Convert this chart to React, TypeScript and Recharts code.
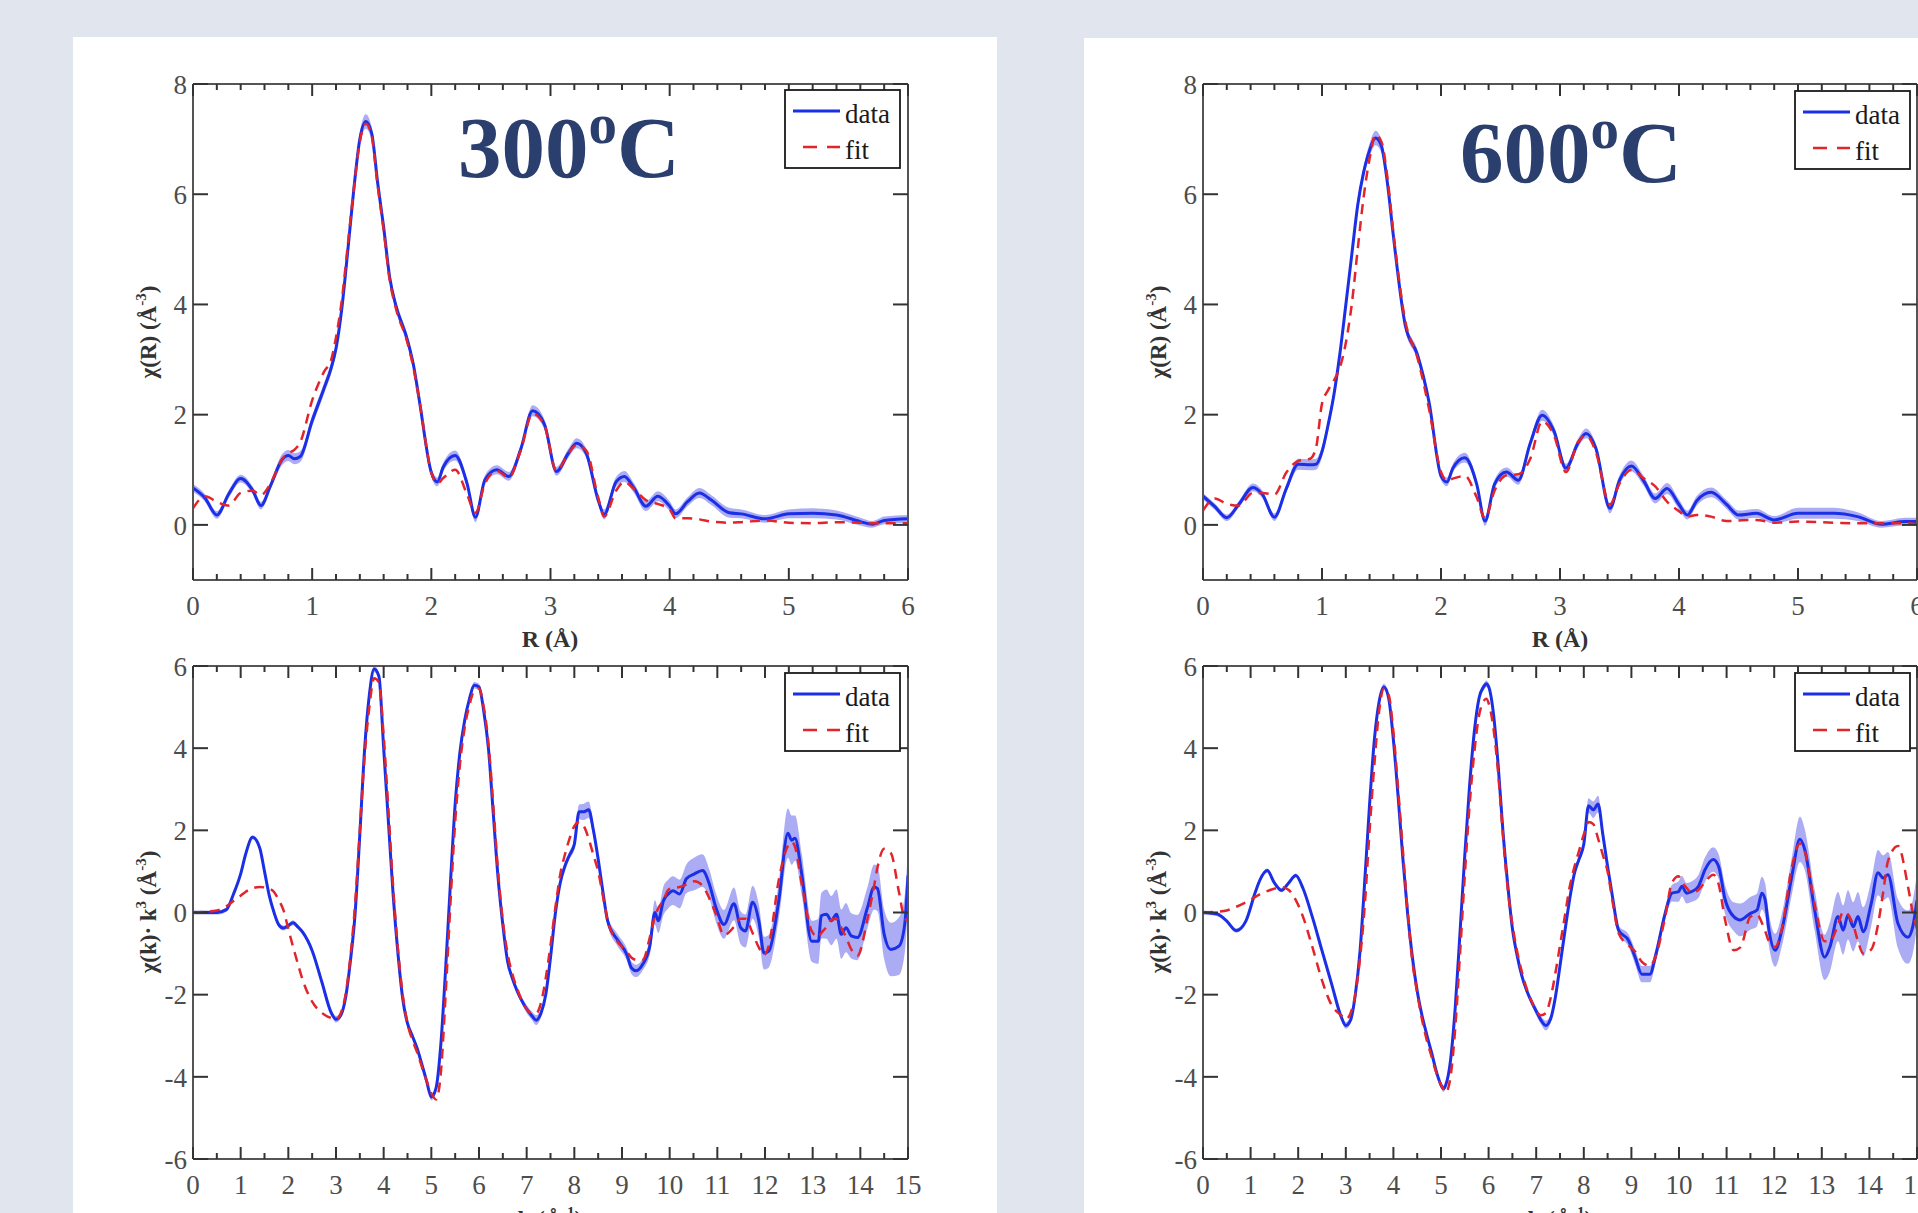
import React from 'react';
import { Area, ComposedChart, Line, XAxis, YAxis } from 'recharts';

// EXAFS fits, 300 °C and 600 °C: chi(R) on top, chi(k)*k^3 below

const SERIF = '"Liberation Serif", "Times New Roman", serif';
const BG = '#e1e5ee';
const FRAME = '#555555';
const TICK = '#333333';
const LABEL = '#4d4d4d';
const BLUE = '#1b2fe6';
const RED = '#e3252b';
const BAND = '#7474ee';
const TITLE = '#2b3f6f';

const rTicks = [0, 0.2, 0.4, 0.6, 0.8, 1, 1.2, 1.4, 1.6, 1.8, 2, 2.2, 2.4, 2.6, 2.8, 3, 3.2, 3.4, 3.6, 3.8, 4, 4.2, 4.4, 4.6, 4.8, 5, 5.2, 5.4, 5.6, 5.8, 6];
const kTicks = [0, 0.5, 1, 1.5, 2, 2.5, 3, 3.5, 4, 4.5, 5, 5.5, 6, 6.5, 7, 7.5, 8, 8.5, 9, 9.5, 10, 10.5, 11, 11.5, 12, 12.5, 13, 13.5, 14, 14.5, 15];
const rYTicks = [0, 2, 4, 6, 8];
const kYTicks = [-6, -4, -2, 0, 2, 4, 6];

// ---- chi(R), 300 C ----
const r300 = [0, 0.1, 0.2, 0.3, 0.4, 0.5, 0.57, 0.65, 0.75, 0.8,
  0.85, 0.9, 1.0, 1.1, 1.16, 1.2, 1.25, 1.3, 1.35, 1.4,
  1.45, 1.5, 1.55, 1.6, 1.65, 1.7, 1.8, 1.85, 1.9, 2.0,
  2.05, 2.1, 2.2, 2.3, 2.37, 2.45, 2.55, 2.65, 2.75, 2.85,
  2.95, 3.05, 3.15, 3.22, 3.3, 3.4, 3.45, 3.55, 3.62, 3.7,
  3.8, 3.9, 4.0, 4.05, 4.15, 4.25, 4.35, 4.5, 4.6, 4.8,
  5.0, 5.2, 5.4, 5.6, 5.7, 5.8, 6.0];
const data300R = [0.67, 0.49, 0.18, 0.56, 0.84, 0.63, 0.35, 0.71, 1.19, 1.26,
  1.2, 1.24, 1.89, 2.48, 2.85, 3.2, 3.95, 5.0, 6.1, 7.0,
  7.32, 7.1, 6.2, 5.4, 4.5, 4.0, 3.35, 2.9, 2.25, 0.95,
  0.78, 1.05, 1.26, 0.75, 0.14, 0.82, 1.0, 0.88, 1.37, 2.07,
  1.82, 0.97, 1.3, 1.48, 1.3, 0.45, 0.19, 0.78, 0.88, 0.67,
  0.34, 0.52, 0.34, 0.2, 0.42, 0.58, 0.45, 0.22, 0.2, 0.11,
  0.2, 0.21, 0.18, 0.06, 0.01, 0.08, 0.11];
const fit300R = [0.3, 0.52, 0.42, 0.35, 0.58, 0.62, 0.54, 0.75, 1.2, 1.3,
  1.36, 1.5, 2.26, 2.78, 3.0, 3.4, 4.1, 5.1, 6.1, 6.95,
  7.28, 7.05, 6.15, 5.35, 4.45, 3.95, 3.3, 2.85, 2.25, 0.95,
  0.75, 0.85, 1.0, 0.55, 0.22, 0.75, 0.98, 0.86, 1.35, 2.02,
  1.8, 0.98, 1.3, 1.45, 1.35, 0.5, 0.15, 0.62, 0.78, 0.65,
  0.45, 0.38, 0.28, 0.12, 0.12, 0.1, 0.06, 0.04, 0.05, 0.08,
  0.04, 0.03, 0.05, 0.04, 0.03, 0.03, 0.03];
const err300R = [0.07, 0.07, 0.07, 0.07, 0.07, 0.07, 0.07, 0.07, 0.1, 0.1,
  0.1, 0.1, 0.1, 0.1, 0.1, 0.1, 0.1, 0.1, 0.1, 0.12,
  0.13, 0.12, 0.1, 0.1, 0.09, 0.09, 0.09, 0.09, 0.08, 0.08,
  0.08, 0.08, 0.09, 0.08, 0.09, 0.08, 0.08, 0.08, 0.08, 0.1,
  0.09, 0.08, 0.08, 0.09, 0.08, 0.08, 0.09, 0.09, 0.1, 0.09,
  0.09, 0.09, 0.09, 0.08, 0.08, 0.09, 0.09, 0.09, 0.08, 0.07,
  0.08, 0.09, 0.08, 0.07, 0.06, 0.07, 0.07];

// ---- chi(R), 600 C ----
const r600 = [0, 0.1, 0.2, 0.3, 0.42, 0.5, 0.6, 0.7, 0.8, 0.9,
  0.95, 1.0, 1.05, 1.1, 1.15, 1.2, 1.25, 1.3, 1.35, 1.4,
  1.45, 1.5, 1.55, 1.6, 1.7, 1.8, 1.9, 2.0, 2.05, 2.1,
  2.2, 2.3, 2.37, 2.45, 2.55, 2.65, 2.75, 2.85, 2.95, 3.05,
  3.15, 3.22, 3.3, 3.42, 3.5, 3.6, 3.7, 3.8, 3.9, 4.0,
  4.07, 4.15, 4.27, 4.4, 4.5, 4.65, 4.8, 5.0, 5.3, 5.5,
  5.7, 5.9, 6.0];
const data600R = [0.52, 0.33, 0.13, 0.37, 0.68, 0.55, 0.14, 0.66, 1.1, 1.09,
  1.1, 1.33, 1.8, 2.36, 3.1, 3.99, 4.9, 5.8, 6.4, 6.8,
  7.02, 6.87, 6.2, 5.24, 3.62, 3.1, 2.22, 0.89, 0.78, 1.03,
  1.22, 0.74, 0.07, 0.74, 0.96, 0.81, 1.48, 1.99, 1.7, 1.03,
  1.48, 1.66, 1.4, 0.3, 0.81, 1.07, 0.81, 0.48, 0.66, 0.37,
  0.18, 0.44, 0.59, 0.37, 0.18, 0.21, 0.09, 0.21, 0.21, 0.15,
  0.01, 0.06, 0.06];
const fit600R = [0.26, 0.48, 0.38, 0.35, 0.58, 0.58, 0.55, 0.95, 1.16, 1.2,
  1.4, 2.2, 2.44, 2.62, 2.85, 3.3, 4.0, 5.0, 5.95, 6.65,
  7.08, 6.95, 6.3, 5.3, 3.7, 3.05, 2.1, 0.96, 0.81, 0.84,
  0.89, 0.5, 0.12, 0.62, 0.9, 0.92, 1.2, 1.88, 1.62, 0.96,
  1.5, 1.62, 1.33, 0.37, 0.75, 1.0, 0.85, 0.7, 0.42, 0.25,
  0.15, 0.18, 0.15, 0.07, 0.08, 0.09, 0.04, 0.06, 0.04, 0.03,
  0.03, 0.03, 0.01];
const err600R = [0.06, 0.06, 0.06, 0.06, 0.07, 0.07, 0.07, 0.07, 0.1, 0.1,
  0.1, 0.1, 0.1, 0.1, 0.1, 0.1, 0.1, 0.1, 0.1, 0.12,
  0.13, 0.12, 0.1, 0.1, 0.09, 0.09, 0.09, 0.08, 0.08, 0.08,
  0.09, 0.08, 0.09, 0.08, 0.08, 0.08, 0.08, 0.1, 0.09, 0.08,
  0.08, 0.09, 0.08, 0.09, 0.09, 0.1, 0.09, 0.09, 0.1, 0.09,
  0.08, 0.09, 0.09, 0.08, 0.08, 0.08, 0.07, 0.1, 0.1, 0.08,
  0.06, 0.07, 0.07];

// ---- chi(k)*k^3, 300 C ----
const k300 = [0, 0.5, 0.7, 0.85, 1.0, 1.1, 1.25, 1.4, 1.5, 1.6,
  1.7, 1.8, 1.9, 2.0, 2.1, 2.2, 2.3, 2.5, 2.7, 2.9,
  3.0, 3.1, 3.2, 3.3, 3.4, 3.5, 3.6, 3.7, 3.8, 3.9,
  4.0, 4.1, 4.2, 4.3, 4.4, 4.5, 4.6, 4.7, 4.8, 4.9,
  5.0, 5.1, 5.2, 5.3, 5.4, 5.5, 5.6, 5.7, 5.8, 5.9,
  6.0, 6.1, 6.2, 6.3, 6.4, 6.5, 6.6, 6.7, 6.8, 6.9,
  7.0, 7.1, 7.2, 7.3, 7.4, 7.5, 7.6, 7.7, 7.8, 7.9,
  8.0, 8.1, 8.2, 8.3, 8.4, 8.5, 8.6, 8.7, 8.9, 9.1,
  9.2, 9.3, 9.44, 9.58, 9.69, 9.76, 9.87, 9.97, 10.07, 10.21,
  10.35, 10.52, 10.69, 10.83, 10.97, 11.14, 11.35, 11.49, 11.59, 11.74,
  11.87, 11.98, 12.08, 12.29, 12.48, 12.56, 12.63, 12.77, 12.98, 13.12,
  13.18, 13.29, 13.39, 13.5, 13.6, 13.7, 13.81, 13.94, 14.15, 14.29,
  14.36, 14.5, 14.64, 14.81, 14.93, 15.0];
const data300k = [0, 0, 0.07, 0.45, 0.94, 1.4, 1.83, 1.57, 1.0, 0.41,
  0.0, -0.3, -0.38, -0.32, -0.25, -0.35, -0.48, -0.93, -1.68, -2.44,
  -2.6, -2.5, -2.08, -1.2, -0.04, 1.9, 3.97, 5.3, 5.93, 5.75,
  4.0, 2.2, 0.41, -1.0, -2.1, -2.7, -3.0, -3.3, -3.69, -4.1,
  -4.49, -4.27, -3.2, -1.37, 0.7, 2.64, 3.9, 4.68, 5.2, 5.53,
  5.49, 4.9, 3.97, 2.4, 0.85, -0.3, -1.19, -1.6, -1.91, -2.15,
  -2.35, -2.5, -2.62, -2.45, -2.0, -1.1, -0.04, 0.7, 1.12, 1.4,
  1.66, 2.45, 2.45, 2.5, 2.0, 1.3, 0.5, -0.21, -0.66, -1.02,
  -1.35, -1.42, -1.25, -0.84, 0.0, -0.2, 0.29, 0.45, 0.53, 0.45,
  0.82, 0.94, 1.02, 0.7, 0.12, -0.29, 0.21, -0.37, -0.45, 0.25,
  -0.2, -0.99, -0.94, 0.29, 1.93, 1.76, 1.81, 0.94, -0.7, -0.7,
  -0.08, -0.04, -0.2, -0.04, -0.53, -0.37, -0.57, -0.61, 0.12, 0.62,
  0.58, -0.53, -0.9, -0.82, -0.3, 0.9];
const fit300k = [0, 0.05, 0.15, 0.28, 0.41, 0.5, 0.59, 0.62, 0.61, 0.58,
  0.5, 0.3, 0.05, -0.4, -0.84, -1.25, -1.64, -2.17, -2.44, -2.57,
  -2.6, -2.45, -2.0, -1.1, 0.2, 2.0, 3.8, 5.0, 5.7, 5.6,
  4.3, 2.5, 0.6, -0.9, -2.0, -2.7, -3.1, -3.4, -3.75, -4.1,
  -4.4, -4.55, -3.9, -2.0, 0.2, 2.2, 3.6, 4.5, 5.05, 5.4,
  5.45, 5.0, 4.1, 2.6, 1.0, -0.2, -1.0, -1.5, -1.85, -2.15,
  -2.35, -2.45, -2.45, -2.2, -1.6, -0.8, 0.1, 0.9, 1.4, 1.8,
  2.1, 2.2, 2.1, 1.8, 1.4, 1.0, 0.4, -0.2, -0.7, -0.95,
  -1.1, -1.15, -1.15, -0.62, -0.1, 0.1, 0.3, 0.55, 0.6, 0.62,
  0.68, 0.76, 0.65, 0.35, -0.04, -0.55, -0.35, -0.15, -0.15, -0.5,
  -0.85, -1.03, -0.8, 0.8, 1.62, 1.72, 1.6, 0.7, -0.45, -0.6,
  -0.5, -0.35, -0.18, -0.15, -0.37, -0.6, -0.9, -1.05, -0.15, 0.65,
  1.1, 1.55, 1.45, 0.5, -0.15, -0.2];
const err300k = [0.05, 0.05, 0.05, 0.05, 0.05, 0.05, 0.05, 0.05, 0.05, 0.05,
  0.06, 0.06, 0.06, 0.06, 0.06, 0.06, 0.06, 0.06, 0.06, 0.06,
  0.08, 0.08, 0.08, 0.08, 0.08, 0.08, 0.08, 0.08, 0.08, 0.08,
  0.08, 0.08, 0.08, 0.08, 0.08, 0.08, 0.08, 0.08, 0.08, 0.08,
  0.08, 0.08, 0.08, 0.08, 0.08, 0.08, 0.08, 0.08, 0.08, 0.08,
  0.08, 0.08, 0.08, 0.08, 0.08, 0.08, 0.08, 0.08, 0.08, 0.08,
  0.1, 0.1, 0.12, 0.1, 0.08, 0.08, 0.08, 0.08, 0.1, 0.1,
  0.12, 0.18, 0.2, 0.2, 0.15, 0.12, 0.1, 0.12, 0.15, 0.15,
  0.15, 0.15, 0.15, 0.2, 0.3, 0.3, 0.35, 0.35, 0.35, 0.35,
  0.35, 0.4, 0.4, 0.35, 0.35, 0.35, 0.4, 0.4, 0.4, 0.4,
  0.4, 0.4, 0.4, 0.45, 0.6, 0.6, 0.55, 0.5, 0.5, 0.55,
  0.55, 0.6, 0.6, 0.6, 0.6, 0.6, 0.55, 0.55, 0.5, 0.55,
  0.55, 0.6, 0.65, 0.7, 0.7, 0.7];

// ---- chi(k)*k^3, 600 C ----
const k600 = [0, 0.3, 0.5, 0.7, 0.9, 1.1, 1.2, 1.35, 1.5, 1.65,
  1.8, 1.95, 2.1, 2.3, 2.5, 2.7, 2.9, 3.0, 3.1, 3.2,
  3.3, 3.4, 3.5, 3.6, 3.7, 3.8, 3.9, 4.0, 4.1, 4.2,
  4.3, 4.4, 4.5, 4.6, 4.7, 4.8, 4.9, 5.0, 5.05, 5.1,
  5.2, 5.3, 5.4, 5.5, 5.6, 5.7, 5.8, 5.9, 5.95, 6.0,
  6.1, 6.2, 6.3, 6.4, 6.5, 6.6, 6.7, 6.8, 6.9, 7.0,
  7.1, 7.2, 7.3, 7.4, 7.5, 7.6, 7.7, 7.8, 7.9, 8.0,
  8.1, 8.2, 8.3, 8.4, 8.5, 8.6, 8.73, 8.94, 9.08, 9.22,
  9.39, 9.5, 9.71, 9.85, 9.99, 10.06, 10.16, 10.27, 10.41, 10.55,
  10.72, 10.83, 10.97, 11.15, 11.29, 11.5, 11.64, 11.74, 11.81, 11.88,
  12.02, 12.16, 12.37, 12.54, 12.64, 12.85, 13.06, 13.17, 13.34, 13.45,
  13.55, 13.66, 13.76, 13.87, 14.04, 14.18, 14.29, 14.39, 14.6, 14.81,
  14.91, 15.0];
const data600k = [0, -0.04, -0.21, -0.44, -0.21, 0.5, 0.8, 1.02, 0.72, 0.54,
  0.72, 0.9, 0.59, -0.12, -0.93, -1.73, -2.53, -2.75, -2.62, -2.0,
  -0.93, 0.8, 2.64, 4.2, 5.13, 5.49, 5.22, 4.2, 2.81, 1.3,
  -0.04, -1.1, -1.91, -2.5, -2.97, -3.4, -3.86, -4.2, -4.29, -4.2,
  -3.6, -2.3, -0.48, 1.4, 3.08, 4.4, 5.22, 5.5, 5.57, 5.5,
  4.86, 3.6, 2.0, 0.7, -0.39, -1.05, -1.55, -1.9, -2.17, -2.4,
  -2.62, -2.75, -2.6, -2.08, -1.3, -0.48, 0.3, 0.94, 1.3, 1.66,
  2.6, 2.5, 2.64, 1.9, 1.12, 0.4, -0.43, -0.68, -1.09, -1.5,
  -1.5, -1.09, -0.02, 0.47, 0.51, 0.64, 0.47, 0.51, 0.64, 1.05,
  1.29, 1.13, 0.31, -0.1, -0.18, -0.02, 0.06, 0.47, 0.31, -0.35,
  -0.92, -0.43, 0.88, 1.78, 1.54, 0.06, -1.09, -0.84, -0.1, -0.43,
  -0.06, -0.35, -0.1, -0.47, 0.23, 0.97, 0.84, 0.92, -0.27, -0.6,
  -0.35, 0.3];
const fit600k = [0, 0.02, 0.05, 0.14, 0.25, 0.38, 0.45, 0.52, 0.58, 0.62,
  0.55, 0.3, -0.1, -0.85, -1.65, -2.25, -2.5, -2.6, -2.45, -2.0,
  -1.1, 0.2, 2.0, 3.6, 4.9, 5.45, 5.3, 4.4, 3.0, 1.5,
  0.0, -1.2, -1.95, -2.6, -3.1, -3.5, -3.9, -4.2, -4.3, -4.38,
  -4.0, -2.8, -1.0, 0.9, 2.6, 3.9, 4.8, 5.15, 5.2, 5.1,
  4.5, 3.4, 1.9, 0.6, -0.3, -0.95, -1.45, -1.85, -2.15, -2.4,
  -2.5, -2.45, -2.1, -1.5, -0.8, -0.1, 0.6, 1.1, 1.5, 1.9,
  2.2, 2.15, 1.8, 1.4, 1.0, 0.3, -0.5, -0.8, -0.95, -1.2,
  -1.3, -1.1, -0.1, 0.72, 0.88, 0.75, 0.6, 0.48, 0.55, 0.75,
  0.92, 0.7, -0.19, -0.92, -0.85, -0.1, -0.05, -0.25, -0.45, -0.68,
  -0.84, -0.4, 1.1, 1.68, 1.5, 0.2, -0.7, -0.7, -0.3, 0.02,
  -0.05, -0.3, -0.7, -1.0, -0.9, -0.3, 0.5, 1.25, 1.62, 0.64,
  0.0, -0.4];
const err600k = [0.05, 0.05, 0.05, 0.05, 0.05, 0.05, 0.05, 0.05, 0.05, 0.05,
  0.05, 0.05, 0.05, 0.06, 0.06, 0.06, 0.08, 0.08, 0.08, 0.08,
  0.08, 0.08, 0.08, 0.08, 0.08, 0.08, 0.08, 0.08, 0.08, 0.08,
  0.08, 0.08, 0.08, 0.08, 0.08, 0.08, 0.08, 0.08, 0.08, 0.08,
  0.08, 0.08, 0.08, 0.08, 0.08, 0.08, 0.08, 0.08, 0.08, 0.08,
  0.08, 0.08, 0.08, 0.08, 0.08, 0.08, 0.08, 0.08, 0.08, 0.1,
  0.1, 0.12, 0.1, 0.08, 0.08, 0.08, 0.08, 0.08, 0.1, 0.12,
  0.18, 0.2, 0.2, 0.15, 0.12, 0.1, 0.12, 0.15, 0.18, 0.2,
  0.2, 0.18, 0.15, 0.2, 0.25, 0.25, 0.25, 0.25, 0.28, 0.3,
  0.3, 0.3, 0.35, 0.35, 0.4, 0.4, 0.4, 0.4, 0.4, 0.4,
  0.4, 0.4, 0.45, 0.55, 0.5, 0.5, 0.55, 0.6, 0.6, 0.6,
  0.6, 0.6, 0.6, 0.6, 0.55, 0.55, 0.55, 0.55, 0.6, 0.65,
  0.65, 0.65];

type ChartSpec = {
  id: string;
  left: number;
  top: number;
  w: number;
  h: number;
  xs: number[];
  data: number[];
  fit: number[];
  err: number[];
  xDomain: [number, number];
  yDomain: [number, number];
  xTicks: number[];
  yTicks: number[];
};

const charts: ChartSpec[] = [
  { id: 'r300', left: 193, top: 84, w: 715, h: 496, xs: r300, data: data300R, fit: fit300R, err: err300R, xDomain: [0, 6], yDomain: [-1, 8], xTicks: rTicks, yTicks: rYTicks },
  { id: 'k300', left: 193, top: 666, w: 715, h: 493, xs: k300, data: data300k, fit: fit300k, err: err300k, xDomain: [0, 15], yDomain: [-6, 6], xTicks: kTicks, yTicks: kYTicks },
  { id: 'r600', left: 1203, top: 84, w: 714, h: 496, xs: r600, data: data600R, fit: fit600R, err: err600R, xDomain: [0, 6], yDomain: [-1, 8], xTicks: rTicks, yTicks: rYTicks },
  { id: 'k600', left: 1203, top: 666, w: 714, h: 493, xs: k600, data: data600k, fit: fit600k, err: err600k, xDomain: [0, 15], yDomain: [-6, 6], xTicks: kTicks, yTicks: kYTicks },
];

const isMajor = (v: number) => Math.abs(v - Math.round(v)) < 1e-6;

const BottomTick = (props: any) => {
  const { x, y, payload } = props;
  const major = isMajor(payload.value);
  return (
    <g>
      <line x1={x} x2={x} y1={y} y2={y - (major ? 12 : 6)} stroke={TICK} strokeWidth={2} />
      {major && (
        <text x={x} y={y + 35} textAnchor="middle" fontFamily={SERIF} fontSize={27} fill={LABEL}>
          {payload.value}
        </text>
      )}
    </g>
  );
};

const TopTick = (props: any) => {
  const { x, y, payload } = props;
  const major = isMajor(payload.value);
  return <line x1={x} x2={x} y1={y} y2={y + (major ? 12 : 6)} stroke={TICK} strokeWidth={2} />;
};

const LeftTick = (props: any) => {
  const { x, y, payload } = props;
  return (
    <g>
      <line x1={x} x2={x + 15} y1={y} y2={y} stroke={TICK} strokeWidth={2} />
      <text x={x - 6} y={y} dy="0.36em" textAnchor="end" fontFamily={SERIF} fontSize={27} fill={LABEL}>
        {payload.value}
      </text>
    </g>
  );
};

const RightTick = (props: any) => {
  const { x, y } = props;
  return <line x1={x} x2={x - 15} y1={y} y2={y} stroke={TICK} strokeWidth={2} />;
};

const PAD_L = 60;
const PAD_B = 60;
const PAD = 20;

function FitChart({ spec }: { spec: ChartSpec }) {
  const rows = spec.xs.map((x, i) => ({
    x,
    data: spec.data[i],
    fit: spec.fit[i],
    band: [spec.data[i] - spec.err[i], spec.data[i] + spec.err[i]],
  }));
  const axisLine = { stroke: FRAME, strokeWidth: 2 };
  const common = { type: 'number' as const, allowDataOverflow: true, interval: 0 as const, tickSize: 0, tickMargin: 0, tickLine: false, axisLine };
  // top axis is 1px tall and right axis 1px wide so they still render
  return (
    <div style={{ position: 'absolute', left: spec.left - PAD_L, top: spec.top - PAD - 1 }}>
      <ComposedChart
        width={PAD_L + spec.w + 1 + PAD}
        height={PAD + 1 + spec.h + PAD_B}
        data={rows}
        margin={{ top: PAD, right: PAD, bottom: 0, left: 0 }}
      >
        <XAxis xAxisId="b" dataKey="x" domain={spec.xDomain} ticks={spec.xTicks} height={PAD_B} tick={<BottomTick />} {...common} />
        <XAxis xAxisId="t" orientation="top" dataKey="x" domain={spec.xDomain} ticks={spec.xTicks} height={1} tick={<TopTick />} {...common} />
        <YAxis yAxisId="l" domain={spec.yDomain} ticks={spec.yTicks} width={PAD_L} tick={<LeftTick />} {...common} />
        <YAxis yAxisId="r" orientation="right" domain={spec.yDomain} ticks={spec.yTicks} width={1} tick={<RightTick />} {...common} />
        <Area xAxisId="b" yAxisId="l" dataKey="band" type="monotone" stroke="none" fill={BAND} fillOpacity={0.6} dot={false} activeDot={false} isAnimationActive={false} />
        <Line xAxisId="b" yAxisId="l" dataKey="data" type="monotone" stroke={BLUE} strokeWidth={3} dot={false} activeDot={false} isAnimationActive={false} />
        <Line xAxisId="b" yAxisId="l" dataKey="fit" type="monotone" stroke={RED} strokeWidth={2.5} strokeDasharray="10 7" dot={false} activeDot={false} isAnimationActive={false} />
      </ComposedChart>
    </div>
  );
}

function LegendBox({ x, y }: { x: number; y: number }) {
  return (
    <g>
      <rect x={x} y={y} width={115} height={78} fill="#fff" stroke="#1a1a1a" strokeWidth={1.8} />
      <line x1={x + 8} x2={x + 55} y1={y + 21} y2={y + 21} stroke={BLUE} strokeWidth={3} />
      <text x={x + 60} y={y + 33} fontFamily={SERIF} fontSize={27} fill="#1a1a1a">data</text>
      <line x1={x + 18} x2={x + 55} y1={y + 57} y2={y + 57} stroke={RED} strokeWidth={2.5} strokeDasharray="14 10" />
      <text x={x + 60} y={y + 69} fontFamily={SERIF} fontSize={27} fill="#1a1a1a">fit</text>
    </g>
  );
}

function Title({ x, y, text }: { x: number; y: number; text: string }) {
  return (
    <text x={x} y={y} fontFamily={SERIF} fontWeight={700} fontSize={87} fill={TITLE}>
      {text}
      <tspan fontSize={57} dy={-34}>o</tspan>
      <tspan dy={34}>C</tspan>
    </text>
  );
}

function YLabel({ x, y, k }: { x: number; y: number; k: boolean }) {
  const sup = { fontSize: 15, dy: -10 };
  return (
    <text transform={`translate(${x},${y}) rotate(-90)`} textAnchor="middle" fontFamily={SERIF} fontWeight={700} fontSize={23} fill="#333">
      {k ? (
        <>
          χ(k)· k<tspan {...sup}>3</tspan>
          <tspan dy={10}> (Å</tspan>
          <tspan {...sup}>-3</tspan>
          <tspan dy={10}>)</tspan>
        </>
      ) : (
        <>
          χ(R) (Å<tspan {...sup}>-3</tspan>
          <tspan dy={10}>)</tspan>
        </>
      )}
    </text>
  );
}

function XLabel({ x, y, k }: { x: number; y: number; k: boolean }) {
  return (
    <text x={x} y={y} textAnchor="middle" fontFamily={SERIF} fontWeight={700} fontSize={24} fill="#333">
      {k ? (
        <>
          k (Å<tspan fontSize={15} dy={-10}>-1</tspan>
          <tspan dy={10}>)</tspan>
        </>
      ) : (
        'R (Å)'
      )}
    </text>
  );
}

export default function App() {
  return (
    <div style={{ position: 'absolute', left: 0, top: 0, width: 1918, height: 1213, overflow: 'hidden', background: BG }}>
      <style>{'body{margin:0;overflow:hidden}'}</style>
      <div style={{ position: 'absolute', left: 73, top: 37, width: 924, height: 1200, background: '#fff' }} />
      <div style={{ position: 'absolute', left: 1084, top: 38, width: 900, height: 1200, background: '#fff' }} />
      {charts.map((c) => (
        <FitChart key={c.id} spec={c} />
      ))}
      <svg width={1918} height={1213} style={{ position: 'absolute', left: 0, top: 0, pointerEvents: 'none' }}>
        <Title x={458} y={177} text="300" />
        <Title x={1460} y={182} text="600" />
        <LegendBox x={785} y={90} />
        <LegendBox x={785} y={673} />
        <LegendBox x={1795} y={91} />
        <LegendBox x={1795} y={673} />
        <YLabel x={156} y={332} k={false} />
        <YLabel x={156} y={912} k />
        <YLabel x={1166} y={332} k={false} />
        <YLabel x={1166} y={912} k />
        <XLabel x={550} y={647} k={false} />
        <XLabel x={1560} y={647} k={false} />
        <XLabel x={550} y={1227} k />
        <XLabel x={1560} y={1227} k />
      </svg>
    </div>
  );
}
